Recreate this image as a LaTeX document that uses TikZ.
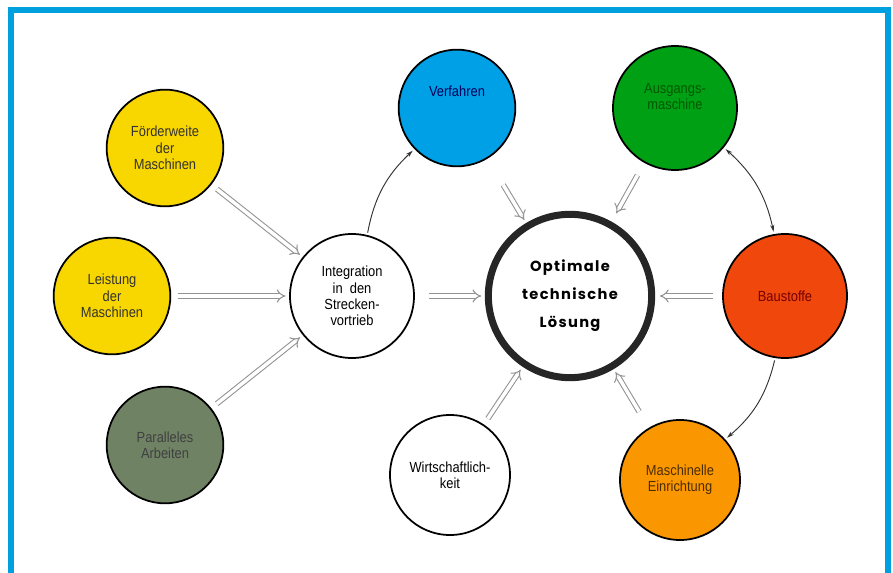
\documentclass[tikz,border=0pt]{standalone}
\usepackage{fontspec}
\setmainfont{Liberation Sans}[FakeStretch=0.88]
\newfontfamily\goalfont{Poppins}[LetterSpace=9]
\usepackage{tikz}
\usetikzlibrary{arrows.meta, positioning}
\definecolor{framecyan}{RGB}{0,160,222}
\definecolor{circyellow}{RGB}{248,214,0}
\definecolor{circblue}{RGB}{0,160,230}
\definecolor{circgreen}{RGB}{0,160,20}
\definecolor{circred}{RGB}{240,72,12}
\definecolor{circorange}{RGB}{250,150,0}
\definecolor{circgray}{RGB}{112,130,100}
\tikzset{
  factor/.style={circle, draw=black, line width=1.5pt, minimum size=3.5cm, inner sep=0pt, align=center, font=\fontsize{12.5}{14}\selectfont},
  goal/.style={circle, draw=black!85, line width=6pt, minimum size=4.9cm, inner sep=0pt, align=center, font=\goalfont\bfseries\fontsize{12.5}{24}\selectfont},
  hollow/.style={draw=gray!85, double=white, double distance=3pt, line width=0.9pt, -{Implies}, shorten <=6pt, shorten >=3pt},
  link/.style={draw=black!80, line width=0.8pt, -{Stealth[length=6pt,width=3.5pt]}, shorten <=2pt, shorten >=2pt}
}

\begin{document}
\begin{tikzpicture}[x=0.03cm, y=-0.03cm]
    \useasboundingbox (0,0) rectangle (893,573);
    \fill[white] (0,0) rectangle (893,573);

    % 1. Rahmen
    \draw[framecyan, line width=5pt] (11,10) rectangle (888,600);

    % 2. Kreise
    \node[factor, fill=circyellow, text=black!80] (foerd) at (165,148) {F\"orderweite\\der\\Maschinen};
    \node[factor, fill=circyellow, text=black!80] (leist) at (112,296) {Leistung\\der\\Maschinen};
    \node[factor, fill=circgray, text=black!75] (paral) at (165,445) {Paralleles\\Arbeiten};
    \node[factor, minimum size=3.72cm, fill=white] (integ) at (352,296) {Integration\\in\ \ den\\Strecken-\\vortrieb};
    \node[factor, fill=circblue, text=blue!35!black] (verf) at (457,108) {Verfahren\\[14pt]};
    \node[factor, minimum size=3.72cm, fill=circgreen, text=green!35!black] (ausg) at (675,108) {Ausgangs-\\maschine\\[6pt]};
    \node[goal, fill=white] (opt) at (570,296) {Optimale\\technische\\L\"osung};
    \node[factor, minimum size=3.72cm, fill=circred, text=red!45!black] (baust) at (785,296) {Baustoffe};
    \node[factor, minimum size=3.6cm, fill=white] (wirt) at (450,475) {Wirtschaftlich-\\keit};
    \node[factor, minimum size=3.6cm, fill=circorange, text=black!70!circorange] (masch) at (680,480) {Maschinelle\\Einrichtung};

    % 3. Hohlpfeile
    \draw[hollow] (foerd) -- (integ);
    \draw[hollow] (leist) -- (integ);
    \draw[hollow] (paral) -- (integ);
    \draw[hollow, shorten <=12pt] (integ) -- (opt);
    \draw[hollow, shorten <=26pt] (verf) -- (opt);
    \draw[hollow, shorten <=12pt, shorten >=8pt] (ausg) -- (opt);
    \draw[hollow, shorten <=8pt, shorten >=4pt] (baust) -- (opt);
    \draw[hollow] (wirt) -- (opt);
    \draw[hollow, shorten <=16pt] (masch) -- (opt);

    % 4. Verbindungen
    \draw[link] (integ.76) to[bend left=18] (verf.224);
    \draw[link, {Stealth[length=6pt,width=3.5pt]}-{Stealth[length=6pt,width=3.5pt]}] (ausg.321) to[bend left=18] (baust.100);
    \draw[link] (baust.261) to[bend left=18] (masch.42);

\end{tikzpicture}
\end{document}
